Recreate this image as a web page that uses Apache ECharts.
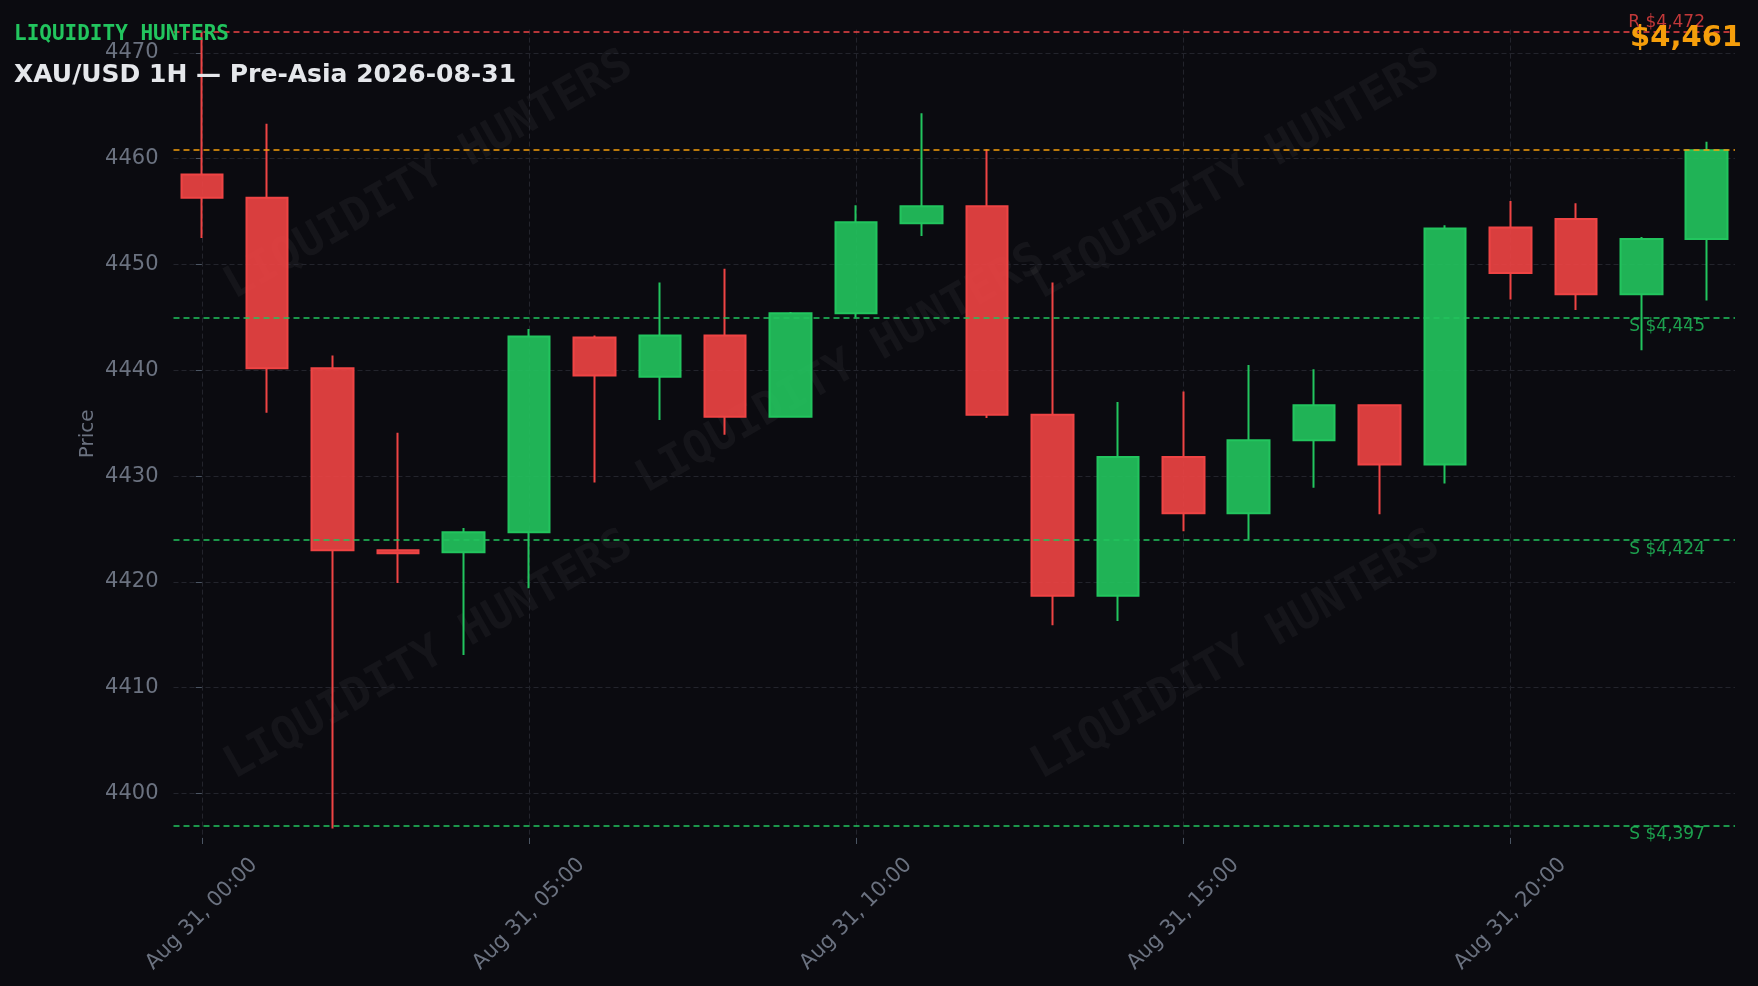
<!DOCTYPE html>
<html>
<head>
<meta charset="utf-8">
<script src="https://cdn.jsdelivr.net/npm/echarts@6/dist/echarts.min.js"></script>
<style>
html,body{margin:0;padding:0;background:#0b0b10;}
#chart{width:1758px;height:986px;}
</style>
</head>
<body>
<div id="chart"></div>
<script>
// Hours of Aug 31 (00:00 .. 23:00)
const hours = [0,1,2,3,4,5,6,7,8,9,10,11,12,13,14,15,16,17,18,19,20,21,22,23];
const opens  = [4458.5,4456.3,4440.2,4423.0,4422.8,4424.7,4443.1,4439.4,4443.3,4435.6,4445.4,4453.9,4455.5,4435.8,4418.7,4431.8,4426.5,4433.4,4436.7,4431.1,4453.5,4454.3,4447.2,4452.4];
const closes = [4456.3,4440.2,4423.0,4422.7,4424.7,4443.2,4439.5,4443.3,4435.6,4445.4,4454.0,4455.5,4435.8,4418.7,4431.8,4426.5,4433.4,4436.7,4431.1,4453.4,4449.2,4447.2,4452.4,4460.8];
const lows   = [4452.5,4436.0,4396.7,4419.9,4413.1,4419.4,4429.4,4435.3,4433.9,4435.6,4445.0,4452.7,4435.5,4415.9,4416.3,4424.8,4424.0,4428.9,4426.4,4429.3,4446.7,4445.7,4441.9,4446.6];
const highs  = [4472.0,4463.3,4441.4,4434.1,4425.1,4443.9,4443.3,4448.3,4449.6,4445.5,4455.6,4464.3,4460.9,4448.3,4437.0,4438.0,4440.5,4440.1,4436.8,4453.7,4456.0,4455.8,4452.6,4461.6];

const xTickHours = [0,5,10,15,20];
const yTicks = [4400,4410,4420,4430,4440,4450,4460,4470];

const resistance = [4472];
const supports = [4445, 4424, 4397];
const currentPrice = 4460.8;

const titleText = 'XAU/USD 1H — Pre-Asia 2026-08-31';
const brandText = 'LIQUIDITY HUNTERS';
const priceLabel = '$4,461';

const pad2 = n => (n < 10 ? '0' : '') + n;
const fmtMoney = v => '$' + v.toLocaleString('en-US');

const candleData = hours.map((h, i) => [h, opens[i], closes[i], lows[i], highs[i]]);

const markLines = [];
resistance.forEach(v => markLines.push({
  yAxis: v,
  lineStyle: {color: '#ef4444', width: 1.5, type: [6, 4]},
  label: {show: true, position: 'insideEndTop', formatter: 'R ' + fmtMoney(v), color: 'rgba(239,68,68,0.8)', fontSize: 17, lineHeight: 17, distance: [30, 1], fontFamily: 'DejaVu Sans'}
}));
markLines.push({
  yAxis: currentPrice,
  lineStyle: {color: '#f59e0b', width: 1.5, type: [6, 4]},
  label: {show: false}
});
supports.forEach(v => markLines.push({
  yAxis: v,
  lineStyle: {color: '#22c55e', width: 1.5, type: [6, 4]},
  label: {show: true, position: 'insideEndBottom', formatter: 'S ' + fmtMoney(v), color: 'rgba(34,197,94,0.8)', fontSize: 17, lineHeight: 17, distance: [30, 1], fontFamily: 'DejaVu Sans'}
}));

const wmPos = [[429,176],[841,370],[1236,176],[429,656],[1236,656]];
const watermarks = wmPos.map(p => ({
  type: 'text', x: p[0], y: p[1], rotation: 29.5 * Math.PI / 180, z: 0, silent: true,
  style: {text: brandText, fill: 'rgba(255,255,255,0.045)', fontSize: 45, fontWeight: 'bold',
          fontFamily: 'DejaVu Sans Mono', align: 'center', verticalAlign: 'middle'}
}));

const chart = echarts.init(document.getElementById('chart'), null, {renderer: 'canvas'});
chart.setOption({
  backgroundColor: '#0b0b10',
  animation: false,
  title: [
    {text: brandText, left: 14, top: 24, padding: 0,
     textStyle: {color: '#22c55e', fontSize: 21, lineHeight: 21, fontWeight: 'bold', fontFamily: 'DejaVu Sans Mono'}},
    {text: titleText, left: 14, top: 62.5, padding: 0,
     textStyle: {color: '#e5e7eb', fontSize: 25, lineHeight: 25, fontWeight: 'bold', fontFamily: 'DejaVu Sans'}},
    {text: priceLabel, right: 16, top: 23.5, padding: 0,
     textStyle: {color: '#f59e0b', fontSize: 29, lineHeight: 29, fontWeight: 'bold', fontFamily: 'DejaVu Sans'}}
  ],
  graphic: watermarks,
  grid: {left: 173.5, right: 23, top: 29.6, bottom: 148, containLabel: false},
  xAxis: {
    type: 'value', min: -0.432, max: 23.432,
    axisLine: {show: false},
    axisTick: {show: true, length: 6, customValues: xTickHours, lineStyle: {color: '#4b5563', width: 1}},
    axisLabel: {customValues: xTickHours, rotate: 45, align: 'center', verticalAlign: 'middle', margin: 76,
      color: '#6b7280', fontSize: 21, fontFamily: 'DejaVu Sans',
      formatter: v => 'Aug 31, ' + pad2(Math.round(v)) + ':00'},
    splitLine: {show: true, lineStyle: {color: '#23242c', width: 1, type: [5, 3]}}
  },
  yAxis: {
    type: 'value', min: 4395.8, max: 4472.2, scale: true,
    name: 'Price', nameLocation: 'middle', nameGap: 75.5, nameMoveOverlap: false,
    nameTextStyle: {color: '#6b7280', fontSize: 20, fontFamily: 'DejaVu Sans'},
    axisLine: {show: false},
    axisTick: {show: true, length: 6, customValues: yTicks, lineStyle: {color: '#4b5563', width: 1}},
    axisLabel: {customValues: yTicks, margin: 15, color: '#6b7280', fontSize: 21, fontFamily: 'DejaVu Sans',
      padding: [3, 0, 0, 0],
      formatter: v => String(Math.round(v))},
    splitLine: {show: true, lineStyle: {color: '#23242c', width: 1, type: [5, 3]}}
  },
  series: [{
    type: 'candlestick',
    data: candleData,
    encode: {x: 0, y: [1, 2, 3, 4]},
    barWidth: 42,
    itemStyle: {
      color: 'rgba(34,197,94,0.9)', borderColor: '#22c55e',
      color0: 'rgba(239,68,68,0.9)', borderColor0: '#ef4444',
      borderWidth: 2
    },
    markLine: {silent: true, symbol: ['none', 'none'], animation: false, data: markLines}
  }]
});
</script>
</body>
</html>
